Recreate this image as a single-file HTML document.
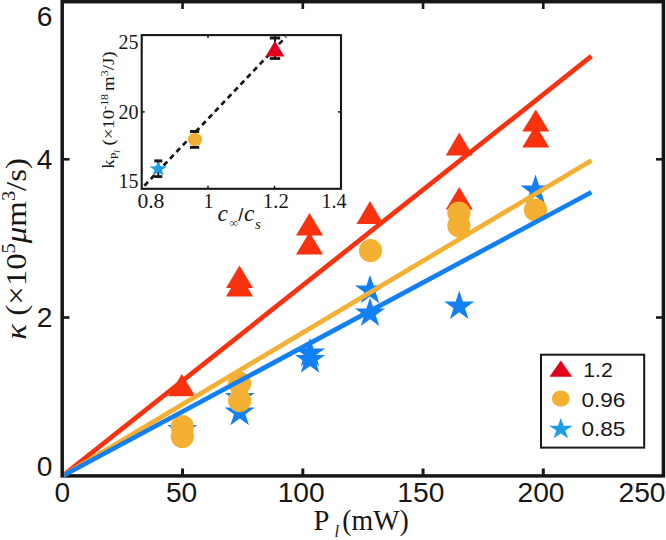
<!DOCTYPE html>
<html><head><meta charset="utf-8"><title>chart</title>
<style>html,body{margin:0;padding:0;background:#fff;}svg{display:block;}</style>
</head><body>
<svg width="666" height="540" viewBox="0 0 666 540">
<rect width="666" height="540" fill="#fff"/>
<rect x="62.2" y="1.7" width="601.2" height="474.2" fill="none" stroke="#171717" stroke-width="3.5"/>
<line x1="182.55" y1="476" x2="182.55" y2="468.5" stroke="#171717" stroke-width="3"/>
<line x1="182.55" y1="1.5" x2="182.55" y2="9" stroke="#171717" stroke-width="2.6"/>
<line x1="302.80" y1="476" x2="302.80" y2="468.5" stroke="#171717" stroke-width="3"/>
<line x1="302.80" y1="1.5" x2="302.80" y2="9" stroke="#171717" stroke-width="2.6"/>
<line x1="423.05" y1="476" x2="423.05" y2="468.5" stroke="#171717" stroke-width="3"/>
<line x1="423.05" y1="1.5" x2="423.05" y2="9" stroke="#171717" stroke-width="2.6"/>
<line x1="543.30" y1="476" x2="543.30" y2="468.5" stroke="#171717" stroke-width="3"/>
<line x1="543.30" y1="1.5" x2="543.30" y2="9" stroke="#171717" stroke-width="2.6"/>
<line x1="62" y1="159.3" x2="69.5" y2="159.3" stroke="#171717" stroke-width="2.6"/>
<line x1="663.5" y1="159.3" x2="656" y2="159.3" stroke="#171717" stroke-width="2.6"/>
<line x1="62" y1="317.5" x2="69.5" y2="317.5" stroke="#171717" stroke-width="2.6"/>
<line x1="663.5" y1="317.5" x2="656" y2="317.5" stroke="#171717" stroke-width="2.6"/>
<g font-family="Liberation Sans, sans-serif" font-size="28.2" fill="#171717">
<text x="62.4" y="502.3" text-anchor="middle">0</text>
<text x="181.6" y="502.3" text-anchor="middle">50</text>
<text x="301.2" y="502.3" text-anchor="middle">100</text>
<text x="420.8" y="502.3" text-anchor="middle">150</text>
<text x="541" y="502.3" text-anchor="middle">200</text>
<text x="642" y="502.3" text-anchor="middle">250</text>
<text x="52.5" y="26" text-anchor="end">6</text>
<text x="52.5" y="169" text-anchor="end">4</text>
<text x="52.5" y="327" text-anchor="end">2</text>
<text x="52.5" y="476" text-anchor="end">0</text>
</g>
<g font-family="Liberation Serif, serif" font-size="28.6" fill="#171717"><text x="313.5" y="530">P</text><text x="334.5" y="537.3" font-size="16.5" font-style="italic">l</text><text x="342.3" y="530" textLength="66.5" lengthAdjust="spacingAndGlyphs">(mW)</text></g>
<text transform="translate(26,339.8) rotate(-90) scale(1.134,1)" font-family="Liberation Serif, serif" font-size="29" fill="#171717"><tspan font-style="italic">κ</tspan> (×10<tspan font-size="18" dy="-11">5</tspan><tspan dy="11" font-style="italic">μ</tspan>m<tspan font-size="18" dy="-11">3</tspan><tspan dy="11">/s)</tspan></text>
<polygon points="181.80,374.00 195.30,396.30 168.30,396.30" fill="#f8310f"/>
<polygon points="239.50,265.50 253.00,288.00 226.00,288.00" fill="#f8310f"/>
<polygon points="239.50,274.00 253.00,296.50 226.00,296.50" fill="#f8310f"/>
<polygon points="309.50,213.00 323.00,235.50 296.00,235.50" fill="#f8310f"/>
<polygon points="309.50,232.00 323.00,254.50 296.00,254.50" fill="#f8310f"/>
<polygon points="370.00,201.00 383.50,224.00 356.50,224.00" fill="#f8310f"/>
<polygon points="459.25,132.50 472.75,155.50 445.75,155.50" fill="#f8310f"/>
<polygon points="459.25,187.00 472.75,209.50 445.75,209.50" fill="#f8310f"/>
<polygon points="535.75,109.50 549.25,131.50 522.25,131.50" fill="#f8310f"/>
<polygon points="535.75,125.00 549.25,147.50 522.25,147.50" fill="#f8310f"/>
<polygon points="182.20,414.00 185.75,424.92 197.23,424.92 187.94,431.67 191.49,442.58 182.20,435.84 172.91,442.58 176.46,431.67 167.17,424.92 178.65,424.92" fill="#1280f4"/>
<polygon points="239.70,382.00 243.25,392.92 254.73,392.92 245.44,399.67 248.99,410.58 239.70,403.84 230.41,410.58 233.96,399.67 224.67,392.92 236.15,392.92" fill="#1280f4"/>
<polygon points="239.70,396.70 243.25,407.62 254.73,407.62 245.44,414.37 248.99,425.28 239.70,418.54 230.41,425.28 233.96,414.37 224.67,407.62 236.15,407.62" fill="#1280f4"/>
<polygon points="310.00,337.70 313.55,348.62 325.03,348.62 315.74,355.37 319.29,366.28 310.00,359.54 300.71,366.28 304.26,355.37 294.97,348.62 306.45,348.62" fill="#1280f4"/>
<polygon points="310.00,344.20 313.55,355.12 325.03,355.12 315.74,361.87 319.29,372.78 310.00,366.04 300.71,372.78 304.26,361.87 294.97,355.12 306.45,355.12" fill="#1280f4"/>
<polygon points="370.00,274.70 373.55,285.62 385.03,285.62 375.74,292.37 379.29,303.28 370.00,296.54 360.71,303.28 364.26,292.37 354.97,285.62 366.45,285.62" fill="#1280f4"/>
<polygon points="370.00,297.50 373.55,308.42 385.03,308.42 375.74,315.17 379.29,326.08 370.00,319.34 360.71,326.08 364.26,315.17 354.97,308.42 366.45,308.42" fill="#1280f4"/>
<polygon points="459.25,290.50 462.80,301.42 474.28,301.42 464.99,308.17 468.54,319.08 459.25,312.34 449.96,319.08 453.51,308.17 444.22,301.42 455.70,301.42" fill="#1280f4"/>
<polygon points="535.50,174.50 539.05,185.42 550.53,185.42 541.24,192.17 544.79,203.08 535.50,196.34 526.21,203.08 529.76,192.17 520.47,185.42 531.95,185.42" fill="#1280f4"/>
<circle cx="182.3" cy="426.7" r="11.6" fill="#f4b032"/>
<circle cx="182.3" cy="436.5" r="11.6" fill="#f4b032"/>
<circle cx="239.6" cy="383.3" r="11.6" fill="#f4b032"/>
<circle cx="239.6" cy="400.6" r="11.6" fill="#f4b032"/>
<circle cx="370.5" cy="250.6" r="11.6" fill="#f4b032"/>
<circle cx="458.9" cy="213" r="11.6" fill="#f4b032"/>
<circle cx="458.9" cy="225.8" r="11.6" fill="#f4b032"/>
<circle cx="535.5" cy="210" r="11.6" fill="#f4b032"/>
<clipPath id="cl"><rect x="64.3" y="0" width="600" height="477.6"/></clipPath><g clip-path="url(#cl)">
<line x1="62.5" y1="476" x2="591.4" y2="56.2" stroke="#f8310f" stroke-width="4.7"/>
<line x1="62.5" y1="476" x2="591.4" y2="160.4" stroke="#f4b032" stroke-width="4.7"/>
<line x1="62.5" y1="476" x2="591.4" y2="192.2" stroke="#1280f4" stroke-width="4.7"/>
</g>
<rect x="141.7" y="35.1" width="199.3" height="153.7" fill="#fff" stroke="#171717" stroke-width="2.1"/>
<line x1="208" y1="188.8" x2="208" y2="185.8" stroke="#171717" stroke-width="1.5"/>
<line x1="208" y1="35.1" x2="208" y2="38.1" stroke="#171717" stroke-width="1.5"/>
<line x1="274.5" y1="188.8" x2="274.5" y2="185.8" stroke="#171717" stroke-width="1.5"/>
<line x1="274.5" y1="35.1" x2="274.5" y2="38.1" stroke="#171717" stroke-width="1.5"/>
<line x1="141.7" y1="111.9" x2="144.7" y2="111.9" stroke="#171717" stroke-width="1.5"/>
<line x1="341" y1="111.9" x2="338" y2="111.9" stroke="#171717" stroke-width="1.5"/>
<g font-family="Liberation Serif, serif" font-size="20" fill="#171717">
<text x="138.5" y="49" text-anchor="end">25</text>
<text x="138.5" y="118.6" text-anchor="end">20</text>
<text x="138.5" y="188.2" text-anchor="end">15</text>
<text x="150.9" y="208.2" text-anchor="middle" textLength="27" lengthAdjust="spacingAndGlyphs">0.8</text>
<text x="208.5" y="208.2" text-anchor="middle">1</text>
<text x="275.8" y="208.2" text-anchor="middle" textLength="26" lengthAdjust="spacingAndGlyphs">1.2</text>
<text x="334" y="208.2" text-anchor="middle">1.4</text>
</g>
<g font-family="Liberation Serif, serif" font-style="italic" fill="#171717"><text x="217.6" y="220.5" font-size="23.5">c</text><text x="233.8" y="227" font-size="12.5" font-style="normal" text-anchor="middle" fill="#444">∞</text><text x="238.2" y="221" font-size="18.5" font-style="normal" font-family="Liberation Sans, sans-serif">/</text><text x="244" y="220.5" font-size="23.5">c</text><text x="255" y="228.5" font-size="15">s</text></g>
<text transform="translate(113.5,168.8) rotate(-90) scale(1.08,1)" font-family="Liberation Serif, serif" font-size="17.5" fill="#171717">k<tspan font-size="11" dy="4">P</tspan><tspan font-size="8" dy="2" font-style="italic">l</tspan><tspan dy="-6"> (×10</tspan><tspan font-size="11" dy="-6">-18 </tspan><tspan dy="6">m</tspan><tspan font-size="11" dy="-6">3</tspan><tspan dy="6">/J)</tspan></text>
<line x1="144.4" y1="185.7" x2="286" y2="36.8" stroke="#171717" stroke-width="2.7" stroke-dasharray="5.3 4"/>
<line x1="158.3" y1="160.9" x2="158.3" y2="176.6" stroke="#171717" stroke-width="2"/>
<line x1="194.6" y1="131.5" x2="194.6" y2="147.4" stroke="#171717" stroke-width="2"/>
<line x1="275" y1="38" x2="275" y2="58.5" stroke="#171717" stroke-width="2"/>
<polygon points="158.20,160.80 160.47,166.15 166.95,166.40 161.87,169.95 163.61,175.45 158.20,172.30 152.79,175.45 154.53,169.95 149.45,166.40 155.93,166.15" fill="#1b9ee6"/>
<ellipse cx="195" cy="139.5" rx="7.1" ry="6.6" fill="#f4b032"/>
<polygon points="275.00,40.80 284.40,56.50 265.60,56.50" fill="#e2001a"/>
<line x1="154.3" y1="160.9" x2="162.3" y2="160.9" stroke="#171717" stroke-width="3"/>
<line x1="154.3" y1="176.6" x2="162.3" y2="176.6" stroke="#171717" stroke-width="2.8"/>
<line x1="190.0" y1="131.5" x2="199.2" y2="131.5" stroke="#171717" stroke-width="3"/>
<line x1="190.0" y1="147.4" x2="199.2" y2="147.4" stroke="#171717" stroke-width="2.8"/>
<line x1="269.8" y1="38" x2="280.2" y2="38" stroke="#171717" stroke-width="3"/>
<line x1="269.8" y1="58.5" x2="280.2" y2="58.5" stroke="#171717" stroke-width="2.8"/>
<rect x="541" y="354.7" width="103.2" height="92.9" fill="#fff" stroke="#171717" stroke-width="2"/>
<polygon points="560.80,360.40 572.15,376.70 549.45,376.70" fill="#e2001a"/>
<ellipse cx="560.7" cy="398.6" rx="8.9" ry="8.1" fill="#f4b032"/>
<polygon points="560.80,418.04 563.58,425.75 572.59,425.75 565.30,430.52 568.09,438.23 560.80,433.46 553.51,438.23 556.30,430.52 549.01,425.75 558.02,425.75" fill="#1b9ee6"/>
<g font-family="Liberation Sans, sans-serif" font-size="20.8" fill="#171717" lengthAdjust="spacingAndGlyphs">
<text x="583.2" y="376.6" textLength="29.5" lengthAdjust="spacingAndGlyphs">1.2</text>
<text x="581.4" y="406.5" textLength="44" lengthAdjust="spacingAndGlyphs">0.96</text>
<text x="581.4" y="436" textLength="44" lengthAdjust="spacingAndGlyphs">0.85</text>
</g>
</svg>
</body></html>
